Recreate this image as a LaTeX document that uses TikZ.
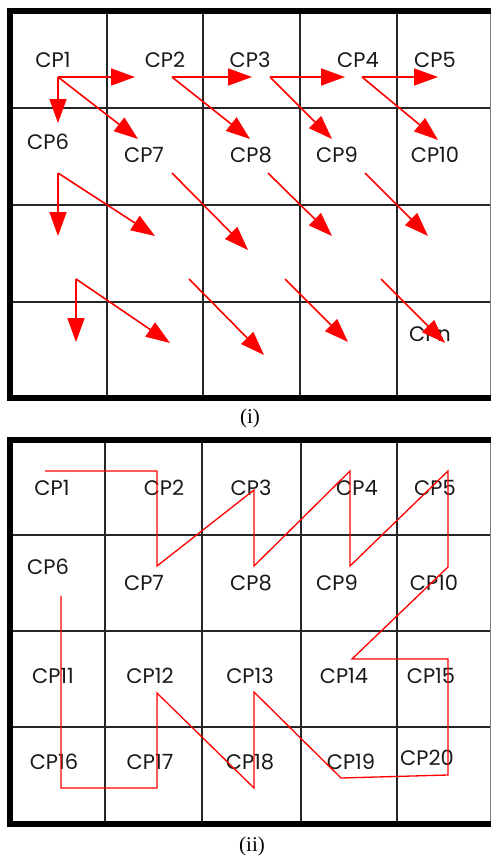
\documentclass[tikz,border=0pt]{standalone}
\usepackage{fontspec}
\usetikzlibrary{arrows.meta}
\newfontfamily\capfont{Liberation Serif}
\newfontfamily\cpface{Poppins}
\newcommand{\cpfont}{\cpface\fontsize{21pt}{23pt}\selectfont}

\begin{document}
\begin{tikzpicture}[x=1pt, y=-1pt,
  gridline/.style={line width=1.3pt, black!85},
  frame/.style={line width=6pt, black},
  lbl/.style={font=\cpfont, inner sep=0pt, text=black!90},
  arr/.style={red, line width=1.6pt, -{Triangle[length=24pt, width=17pt]}},
  zig/.style={red, line width=1.3pt},
  capt/.style={font=\capfont\fontsize{21pt}{24pt}\selectfont, inner sep=0pt}
]
\useasboundingbox (0,0) rectangle (491,859);

% grid (i)
\foreach \x in {107,203,300,397} \draw[gridline] (\x,12) -- (\x,398);
\foreach \y in {108,205,302} \draw[gridline] (10,\y) -- (490,\y);
\draw[gridline, black!50, line width=1pt] (490,12) -- (490,398);
\draw[frame] (491,11.5) -- (10,11.5) -- (10,398) -- (491,398);

% grid (ii)
\foreach \x in {105,202,301,397} \draw[gridline] (\x,440) -- (\x,824);
\foreach \y in {535,631,727} \draw[gridline] (9.5,\y) -- (490,\y);
\draw[gridline, black!50, line width=1pt] (490,440) -- (490,824);
\draw[frame] (491,439.5) -- (9.5,439.5) -- (9.5,824) -- (491,824);

% labels (i)
\node[lbl] (p1) at (53,60) {CP1};
\node[lbl] (p2) at (165,60) {CP2};
\node[lbl] (p3) at (250,60) {CP3};
\node[lbl] (p4) at (358,60) {CP4};
\node[lbl] (p5) at (435,60) {CP5};
\node[lbl] (p6) at (48,142) {CP6};
\node[lbl] (p7) at (144,155) {CP7};
\node[lbl] (p8) at (251,155) {CP8};
\node[lbl] (p9) at (337,155) {CP9};
\node[lbl] (p10) at (435,155) {CP10};
\node[lbl] (pn) at (430,334) {CPn};

% arrow ends (i)
\coordinate (s1) at (58,77);   \coordinate (s2) at (172,77);
\coordinate (s3) at (270,77);  \coordinate (s4) at (362,77);
\coordinate (s6) at (58,173);  \coordinate (s7) at (172,173);
\coordinate (s8) at (268,173); \coordinate (s9) at (365,173);
\coordinate (s11) at (76,279); \coordinate (s12) at (189,279);
\coordinate (s13) at (285,279);\coordinate (s14) at (381,279);

\coordinate (h1) at (135,77);  \coordinate (v1) at (58,123);  \coordinate (d1) at (138,139);
\coordinate (h2) at (252,77);  \coordinate (d2) at (250,139);
\coordinate (h3) at (345,77);  \coordinate (d3) at (332,139);
\coordinate (h4) at (438,77);  \coordinate (d4) at (438,140);
\coordinate (v6) at (58,236);  \coordinate (d6) at (155,236);
\coordinate (d7) at (248,250); \coordinate (d8) at (332,236);
\coordinate (d9) at (428,236);
\coordinate (v11) at (76,342); \coordinate (d11) at (170,343);
\coordinate (d12) at (264,355);\coordinate (d13) at (348,342);
\coordinate (d14) at (445,343);

\draw[arr] (s1) -- (h1);
\draw[arr] (s1) -- (v1);
\draw[arr] (s1) -- (d1);
\draw[arr] (s2) -- (h2);
\draw[arr] (s2) -- (d2);
\draw[arr] (s3) -- (h3);
\draw[arr] (s3) -- (d3);
\draw[arr] (s4) -- (h4);
\draw[arr] (s4) -- (d4);
\draw[arr] (s6) -- (v6);
\draw[arr] (s6) -- (d6);
\draw[arr] (s7) -- (d7);
\draw[arr] (s8) -- (d8);
\draw[arr] (s9) -- (d9);
\draw[arr] (s11) -- (v11);
\draw[arr] (s11) -- (d11);
\draw[arr] (s12) -- (d12);
\draw[arr] (s13) -- (d13);
\draw[arr] (s14) -- (d14);

\node[capt] (capi) at (250,418) {(i)};

% labels (ii)
\node[lbl] (q1) at (52,488) {CP1};
\node[lbl] (q2) at (164,488) {CP2};
\node[lbl] (q3) at (251,488) {CP3};
\node[lbl] (q4) at (357,488) {CP4};
\node[lbl] (q5) at (435,488) {CP5};
\node[lbl] (q6) at (48,567) {CP6};
\node[lbl] (q7) at (144,583) {CP7};
\node[lbl] (q8) at (251,583) {CP8};
\node[lbl] (q9) at (337,583) {CP9};
\node[lbl] (q10) at (434,583) {CP10};
\node[lbl] (q11) at (53,676) {CP11};
\node[lbl] (q12) at (150,676) {CP12};
\node[lbl] (q13) at (250,676) {CP13};
\node[lbl] (q14) at (344,676) {CP14};
\node[lbl] (q15) at (431,676) {CP15};
\node[lbl] (q16) at (54,762) {CP16};
\node[lbl] (q17) at (150,762) {CP17};
\node[lbl] (q18) at (250,762) {CP18};
\node[lbl] (q19) at (351,762) {CP19};
\node[lbl] (q20) at (427,758) {CP20};

% zigzag (ii)
\foreach \n/\px/\py in {0/45/471, 1/157/471, 2/157/566, 3/254/490, 4/254/566,
  5/350/471, 6/350/566, 7/448/471, 8/448/567, 9/352/659, 10/448/659,
  11/448/775, 12/341/778, 13/254/692, 14/254/788, 15/157/693, 16/157/788,
  17/61/788, 18/61/596}
  \coordinate (w\n) at (\px,\py);
\draw[zig] (w0) \foreach \n in {1,...,18} { -- (w\n)};

\node[capt] (capii) at (252,846) {(ii)};

\end{tikzpicture}
\end{document}
